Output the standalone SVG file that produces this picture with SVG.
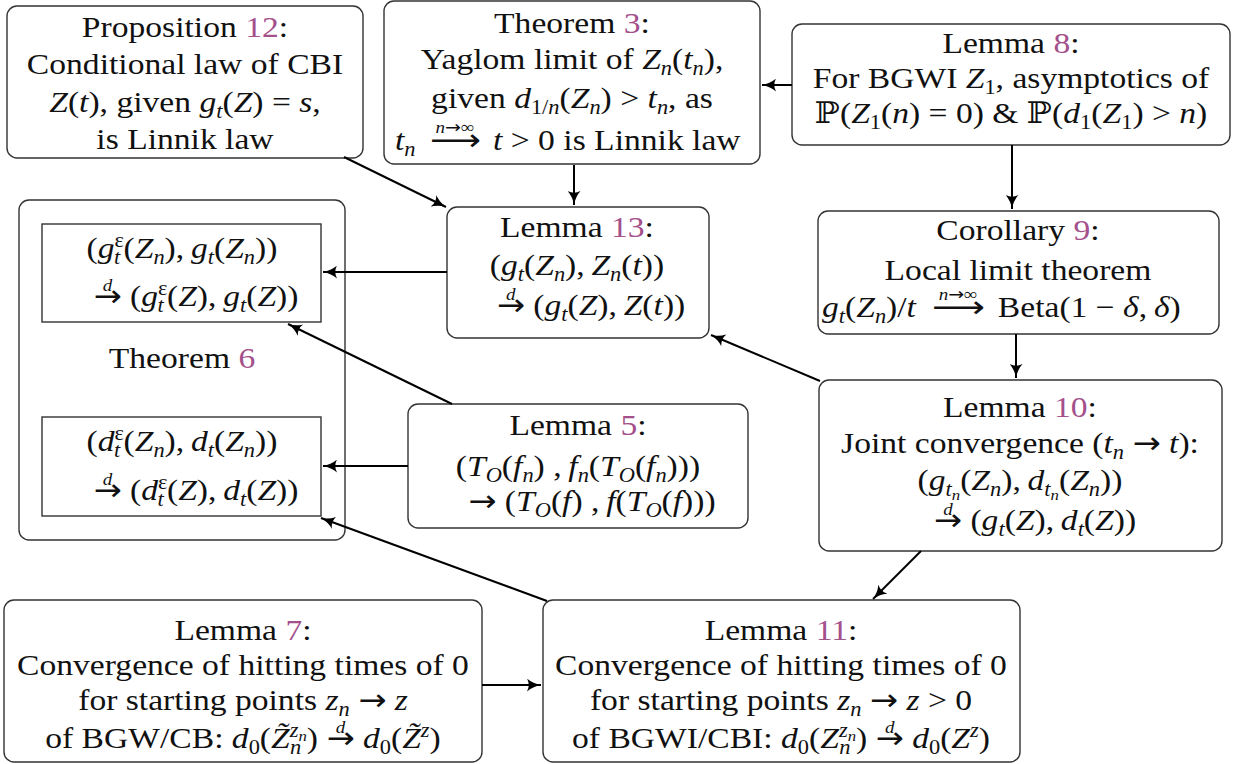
<svg xmlns="http://www.w3.org/2000/svg" width="1237" height="764" viewBox="0 0 1237 764">
<defs>
<style>
text{font-family:"Liberation Serif","Times New Roman","DejaVu Serif",serif}
.t{font-size:30px;fill:#111;text-anchor:middle}
.st{text-anchor:start}
.i{font-style:italic}
.r{fill:#a4508b}
.s{font-size:20px}
.ss{font-size:15px}
.o{font-size:17px}
.la{font-family:"DejaVu Sans",sans-serif;font-style:normal}
.box{fill:#fff;stroke:#333;stroke-width:1.4}
.edge{fill:none;stroke:#000;stroke-width:2;marker-end:url(#ah)}
</style>
<marker id="ah" viewBox="0 0 15 13" refX="14" refY="6.5" markerWidth="15" markerHeight="13" markerUnits="userSpaceOnUse" orient="auto">
<path d="M0,0 Q5.5,5 14,6.5 Q5.5,8 0,13 Q3.5,6.5 0,0 Z" fill="#000"/>
</marker>
</defs>
<rect width="1237" height="764" fill="#fff"/>

<g id="prop12">
<rect class="box" x="7" y="6" width="356" height="152" rx="10"/>
<g transform="matrix(1.12 0 0 1 -22.2 0)">
<text class="t" x="185" y="37">Proposition <tspan class="r">12</tspan>:</text>
<text class="t" x="185" y="74">Conditional law of CBI</text>
<text class="t" x="185" y="112"><tspan class="i">Z</tspan>(<tspan class="i">t</tspan>), given <tspan class="i">g</tspan><tspan class="s i" dy="6">t</tspan><tspan dy="-6">(</tspan><tspan class="i">Z</tspan>) = <tspan class="i">s</tspan>,</text>
<text class="t" x="185" y="149">is Linnik law</text>
</g>
</g>

<g id="thm3">
<rect class="box" x="384" y="1" width="376" height="163" rx="10"/>
<g transform="matrix(1.12 0 0 1 -68.64 0)">
<text class="t" x="572" y="33">Theorem <tspan class="r">3</tspan>:</text>
<text class="t" x="572" y="69">Yaglom limit of <tspan class="i">Z</tspan><tspan class="s i" dy="6">n</tspan><tspan dy="-6">(</tspan><tspan class="i">t</tspan><tspan class="s i" dy="6">n</tspan><tspan dy="-6">),</tspan></text>
<text class="t" x="572" y="108">given <tspan class="i">d</tspan><tspan class="s" dy="6">1/<tspan class="i">n</tspan></tspan><tspan dy="-6">(</tspan><tspan class="i">Z</tspan><tspan class="s i" dy="6">n</tspan><tspan dy="-6">) &gt; </tspan><tspan class="i">t</tspan><tspan class="s i" dy="6">n</tspan><tspan dy="-6">, as</tspan></text>
<text class="t st" x="414" y="150"><tspan class="i">t</tspan><tspan class="s i" dy="6">n</tspan></text>
<text class="t st la" x="445" y="150" textLength="45.5" lengthAdjust="spacingAndGlyphs">⟶</text>
<text class="t o" x="467.5" y="133"><tspan class="i">n</tspan><tspan class="la">→</tspan>∞</text>
<text class="t st" x="501.5" y="150"><tspan class="i">t</tspan> &gt; 0 is Linnik law</text>
</g>
</g>

<g id="lem8">
<rect class="box" x="792" y="24" width="438" height="121" rx="10"/>
<g transform="matrix(1.12 0 0 1 -121.32 0)">
<text class="t" x="1011" y="53">Lemma <tspan class="r">8</tspan>:</text>
<text class="t" x="1011" y="88">For BGWI <tspan class="i">Z</tspan><tspan class="s" dy="6">1</tspan><tspan dy="-6">, asymptotics of</tspan></text>
<text class="t" x="1011" y="123">ℙ(<tspan class="i">Z</tspan><tspan class="s" dy="6">1</tspan><tspan dy="-6">(</tspan><tspan class="i">n</tspan>) = 0) &amp; ℙ(<tspan class="i">d</tspan><tspan class="s" dy="6">1</tspan><tspan dy="-6">(</tspan><tspan class="i">Z</tspan><tspan class="s" dy="6">1</tspan><tspan dy="-6">) &gt; </tspan><tspan class="i">n</tspan>)</text>
</g>
</g>

<g id="lem13">
<rect class="box" x="447" y="207" width="262" height="131" rx="10"/>
<g transform="matrix(1.12 0 0 1 -69.24 0)">
<text class="t" x="577" y="237">Lemma <tspan class="r">13</tspan>:</text>
<text class="t" x="577" y="275">(<tspan class="i">g</tspan><tspan class="s i" dy="6">t</tspan><tspan dy="-6">(</tspan><tspan class="i">Z</tspan><tspan class="s i" dy="6">n</tspan><tspan dy="-6">),&#8201;</tspan><tspan class="i">Z</tspan><tspan class="s i" dy="6">n</tspan><tspan dy="-6">(</tspan><tspan class="i">t</tspan>))</text>
<text class="t" x="589.5" y="315"><tspan class="la">→</tspan><tspan class="o i" dx="-16.8" dy="-15">d</tspan><tspan dx="8.3" dy="15"> (</tspan><tspan class="i">g</tspan><tspan class="s i" dy="6">t</tspan><tspan dy="-6">(</tspan><tspan class="i">Z</tspan>),&#8201;<tspan class="i">Z</tspan>(<tspan class="i">t</tspan>))</text>
</g>
</g>

<g id="cor9">
<rect class="box" x="818" y="211" width="401" height="123" rx="10"/>
<g transform="matrix(1.12 0 0 1 -122.16 0)">
<text class="t" x="1018" y="240">Corollary <tspan class="r">9</tspan>:</text>
<text class="t" x="1018" y="280">Local limit theorem</text>
<text class="t st" x="843" y="317"><tspan class="i">g</tspan><tspan class="s i" dy="6">t</tspan><tspan dy="-6">(</tspan><tspan class="i">Z</tspan><tspan class="s i" dy="6">n</tspan><tspan dy="-6">)/</tspan><tspan class="i">t</tspan></text>
<text class="t st la" x="941" y="317" textLength="47.3" lengthAdjust="spacingAndGlyphs">⟶</text>
<text class="t o" x="964.6" y="300"><tspan class="i">n</tspan><tspan class="la">→</tspan>∞</text>
<text class="t st" x="1000" y="317">Beta(1 − <tspan class="i">δ</tspan>,&#8201;<tspan class="i">δ</tspan>)</text>
</g>
</g>

<g id="thm6">
<rect class="box" x="19" y="200" width="326" height="340" rx="10"/>
<g transform="matrix(1.12 0 0 1 -21.84 0)">
<text class="t" x="182" y="368">Theorem <tspan class="r">6</tspan></text>
</g>
<g id="thm6-g">
<rect class="box" x="42" y="224" width="279" height="98"/>
<g transform="matrix(1.12 0 0 1 -21.84 0)">
<text class="t" x="182" y="258">(<tspan class="i">g</tspan><tspan class="s" dy="-11">ε</tspan><tspan class="s i" dx="-9" dy="17">t</tspan><tspan dx="3" dy="-6">(</tspan><tspan class="i">Z</tspan><tspan class="s i" dy="6">n</tspan><tspan dy="-6">),&#8201;</tspan><tspan class="i">g</tspan><tspan class="s i" dy="6">t</tspan><tspan dy="-6">(</tspan><tspan class="i">Z</tspan><tspan class="s i" dy="6">n</tspan><tspan dy="-6">))</tspan></text>
<text class="t" x="194.5" y="306"><tspan class="la">→</tspan><tspan class="o i" dx="-16.8" dy="-15">d</tspan><tspan dx="8.3" dy="15"> (</tspan><tspan class="i">g</tspan><tspan class="s" dy="-11">ε</tspan><tspan class="s i" dx="-9" dy="17">t</tspan><tspan dx="3" dy="-6">(</tspan><tspan class="i">Z</tspan>),&#8201;<tspan class="i">g</tspan><tspan class="s i" dy="6">t</tspan><tspan dy="-6">(</tspan><tspan class="i">Z</tspan>))</text>
</g>
</g>
<g id="thm6-d">
<rect class="box" x="42" y="417" width="279" height="99"/>
<g transform="matrix(1.12 0 0 1 -21.84 0)">
<text class="t" x="182" y="451">(<tspan class="i">d</tspan><tspan class="s" dy="-11">ε</tspan><tspan class="s i" dx="-9" dy="17">t</tspan><tspan dx="3" dy="-6">(</tspan><tspan class="i">Z</tspan><tspan class="s i" dy="6">n</tspan><tspan dy="-6">),&#8201;</tspan><tspan class="i">d</tspan><tspan class="s i" dy="6">t</tspan><tspan dy="-6">(</tspan><tspan class="i">Z</tspan><tspan class="s i" dy="6">n</tspan><tspan dy="-6">))</tspan></text>
<text class="t" x="194.5" y="500"><tspan class="la">→</tspan><tspan class="o i" dx="-16.8" dy="-15">d</tspan><tspan dx="8.3" dy="15"> (</tspan><tspan class="i">d</tspan><tspan class="s" dy="-11">ε</tspan><tspan class="s i" dx="-9" dy="17">t</tspan><tspan dx="3" dy="-6">(</tspan><tspan class="i">Z</tspan>),&#8201;<tspan class="i">d</tspan><tspan class="s i" dy="6">t</tspan><tspan dy="-6">(</tspan><tspan class="i">Z</tspan>))</text>
</g>
</g>
</g>

<g id="lem5">
<rect class="box" x="408" y="404" width="340" height="124" rx="10"/>
<g transform="matrix(1.12 0 0 1 -69.36 0)">
<text class="t" x="578" y="435">Lemma <tspan class="r">5</tspan>:</text>
<text class="t" x="578" y="476">(<tspan class="i">T</tspan><tspan class="s i" dy="6">O</tspan><tspan dy="-6">(</tspan><tspan class="i">f</tspan><tspan class="s i" dy="6">n</tspan><tspan dy="-6">) ,&#8201;</tspan><tspan class="i">f</tspan><tspan class="s i" dy="6">n</tspan><tspan dy="-6">(</tspan><tspan class="i">T</tspan><tspan class="s i" dy="6">O</tspan><tspan dy="-6">(</tspan><tspan class="i">f</tspan><tspan class="s i" dy="6">n</tspan><tspan dy="-6">)))</tspan></text>
<text class="t" x="590.5" y="511"><tspan class="la">→</tspan> (<tspan class="i">T</tspan><tspan class="s i" dy="6">O</tspan><tspan dy="-6">(</tspan><tspan class="i">f</tspan>) ,&#8201;<tspan class="i">f</tspan>(<tspan class="i">T</tspan><tspan class="s i" dy="6">O</tspan><tspan dy="-6">(</tspan><tspan class="i">f</tspan>)))</text>
</g>
</g>

<g id="lem10">
<rect class="box" x="819" y="380" width="403" height="171" rx="10"/>
<g transform="matrix(1.12 0 0 1 -122.4 0)">
<text class="t" x="1020" y="417">Lemma <tspan class="r">10</tspan>:</text>
<text class="t" x="1020" y="453">Joint convergence (<tspan class="i">t</tspan><tspan class="s i" dy="6">n</tspan><tspan dy="-6"> </tspan><tspan class="la">→</tspan> <tspan class="i">t</tspan>):</text>
<text class="t" x="1020" y="490">(<tspan class="i">g</tspan><tspan class="s i" dy="6">t</tspan><tspan class="ss i" dy="4">n</tspan><tspan dy="-10">(</tspan><tspan class="i">Z</tspan><tspan class="s i" dy="6">n</tspan><tspan dy="-6">),&#8201;</tspan><tspan class="i">d</tspan><tspan class="s i" dy="6">t</tspan><tspan class="ss i" dy="4">n</tspan><tspan dy="-10">(</tspan><tspan class="i">Z</tspan><tspan class="s i" dy="6">n</tspan><tspan dy="-6">))</tspan></text>
<text class="t" x="1033.4" y="530"><tspan class="la">→</tspan><tspan class="o i" dx="-16.8" dy="-15">d</tspan><tspan dx="8.3" dy="15"> (</tspan><tspan class="i">g</tspan><tspan class="s i" dy="6">t</tspan><tspan dy="-6">(</tspan><tspan class="i">Z</tspan>),&#8201;<tspan class="i">d</tspan><tspan class="s i" dy="6">t</tspan><tspan dy="-6">(</tspan><tspan class="i">Z</tspan>))</text>
</g>
</g>

<g id="lem7">
<rect class="box" x="4" y="600" width="478" height="162" rx="10"/>
<g transform="matrix(1.12 0 0 1 -29.16 0)">
<text class="t" x="243" y="640">Lemma <tspan class="r">7</tspan>:</text>
<text class="t" x="243" y="675">Convergence of hitting times of 0</text>
<text class="t" x="243" y="710">for starting points <tspan class="i">z</tspan><tspan class="s i" dy="6">n</tspan><tspan dy="-6"> </tspan><tspan class="la">→</tspan> <tspan class="i">z</tspan></text>
<text class="t" x="243" y="748">of BGW/CB: <tspan class="i">d</tspan><tspan class="s" dy="6">0</tspan><tspan dy="-6">(</tspan><tspan class="i">Z̃</tspan><tspan class="s i" dy="-11">z</tspan><tspan class="ss i" dy="4">n</tspan><tspan class="s i" dx="-15" dy="13">n</tspan><tspan dx="5" dy="-6">) </tspan><tspan class="la">→</tspan><tspan class="o i" dx="-16.8" dy="-15">d</tspan><tspan dx="8.3" dy="15"> </tspan><tspan class="i">d</tspan><tspan class="s" dy="6">0</tspan><tspan dy="-6">(</tspan><tspan class="i">Z̃</tspan><tspan class="s i" dy="-11">z</tspan><tspan dy="11">)</tspan></text>
</g>
</g>

<g id="lem11">
<rect class="box" x="543" y="600" width="477" height="162" rx="10"/>
<g transform="matrix(1.12 0 0 1 -93.72 0)">
<text class="t" x="781" y="640">Lemma <tspan class="r">11</tspan>:</text>
<text class="t" x="781" y="675">Convergence of hitting times of 0</text>
<text class="t" x="781" y="710">for starting points <tspan class="i">z</tspan><tspan class="s i" dy="6">n</tspan><tspan dy="-6"> </tspan><tspan class="la">→</tspan> <tspan class="i">z</tspan> &gt; 0</text>
<text class="t" x="781" y="748">of BGWI/CBI: <tspan class="i">d</tspan><tspan class="s" dy="6">0</tspan><tspan dy="-6">(</tspan><tspan class="i">Z</tspan><tspan class="s i" dy="-11">z</tspan><tspan class="ss i" dy="4">n</tspan><tspan class="s i" dx="-15" dy="13">n</tspan><tspan dx="5" dy="-6">) </tspan><tspan class="la">→</tspan><tspan class="o i" dx="-16.8" dy="-15">d</tspan><tspan dx="8.3" dy="15"> </tspan><tspan class="i">d</tspan><tspan class="s" dy="6">0</tspan><tspan dy="-6">(</tspan><tspan class="i">Z</tspan><tspan class="s i" dy="-11">z</tspan><tspan dy="11">)</tspan></text>
</g>
</g>

<g id="edges">
<path class="edge" d="M792,85 H762"/>
<path class="edge" d="M574,165 V205"/>
<path class="edge" d="M344,157 L446,207"/>
<path class="edge" d="M1012,145 V209"/>
<path class="edge" d="M1016,334 V378"/>
<path class="edge" d="M820,381 L711,335"/>
<path class="edge" d="M447,272 H323"/>
<path class="edge" d="M452,404 L288,324"/>
<path class="edge" d="M408,466 H323"/>
<path class="edge" d="M547,601 L321,518"/>
<path class="edge" d="M921,551 L873,599"/>
<path class="edge" d="M482,685 H541"/>
</g>
</svg>
